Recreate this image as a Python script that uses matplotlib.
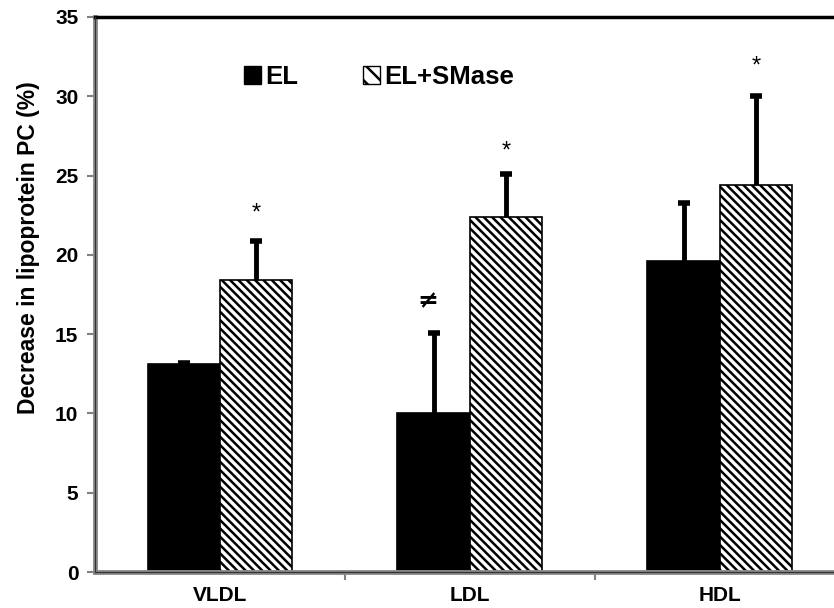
import numpy as np
import matplotlib.pyplot as plt
from matplotlib.patches import Patch

plt.rcParams['font.family'] = ['Liberation Sans', 'DejaVu Sans']
plt.rcParams['hatch.linewidth'] = 1.8

categories = ['VLDL', 'LDL', 'HDL']
el_values = [13.1, 10.0, 19.6]
el_errors = [0.1, 5.1, 3.7]
smase_values = [18.4, 22.4, 24.4]
smase_errors = [2.5, 2.7, 5.6]
smase_marks = ['*', '*', '*']
smase_mark_y = [22.6, 26.5, 31.9]
el_marks = ['', '\u2260', '']
el_mark_y = [0, 17.1, 0]
y_ticks = [0, 5, 10, 15, 20, 25, 30, 35]

x = np.arange(len(categories))
width = 0.29
hatch = '\\\\\\\\'

fig = plt.figure(figsize=(8.34, 6.08), dpi=100)
ax = fig.add_axes([95 / 834, 36 / 608, 750 / 834, 555 / 608])

ax.bar(x - width / 2, el_values, width, color='black', edgecolor='black', linewidth=1.2)
ax.bar(x + width / 2, smase_values, width, color='white', edgecolor='black',
       hatch=hatch, linewidth=1.2)


def upper_error(xs, vals, errs):
    tops = np.add(vals, errs)
    ax.vlines(xs, vals, tops, color='black', linewidth=3.5, zorder=4)
    ax.plot(xs, tops, linestyle='none', marker='_', markersize=9, markeredgewidth=4,
            color='black', zorder=4)


upper_error(x - width / 2, el_values, el_errors)
upper_error(x + width / 2, smase_values, smase_errors)

for xi, m, y in zip(x, smase_marks, smase_mark_y):
    ax.text(xi + width / 2, y, m, ha='center', va='center', fontsize=17)
for xi, m, y in zip(x, el_marks, el_mark_y):
    if m:
        ax.text(xi - width / 2 - 0.025, y, m, ha='center', va='center', fontsize=18,
                fontweight='bold', family=['DejaVu Sans'])

ax.set_xlim(-0.5, 2.5)
ax.set_ylim(0, 35)
ax.set_yticks(y_ticks)
ax.set_yticklabels([str(t) for t in y_ticks], fontsize=15, fontweight='bold')
ax.set_xticks(x)
ax.set_xticklabels(categories, fontsize=15, fontweight='bold')
ax.set_xticks([0.5, 1.5], minor=True)
ax.tick_params(axis='x', which='major', length=0, pad=10)
ax.tick_params(axis='x', which='minor', length=6, color='#808080', width=1.5, direction='out')
ax.tick_params(axis='y', length=6, color='#808080', width=1.5, pad=6)

ax.set_ylabel('Decrease in lipoprotein PC (%)', fontsize=16.5, fontweight='bold')
ax.yaxis.set_label_coords(-0.073, 0.584)

ax.spines['left'].set_color('#8a8a8a')
ax.spines['left'].set_linewidth(3.5)
ax.spines['bottom'].set_color('#8a8a8a')
ax.spines['bottom'].set_linewidth(3.5)
ax.spines['top'].set_color('black')
ax.spines['top'].set_linewidth(2.5)
ax.spines['right'].set_color('black')
ax.spines['right'].set_linewidth(2.5)
ax.axvline(-0.5, color='#333333', lw=0.9, zorder=5, clip_on=False)
ax.axhline(0, color='#333333', lw=0.9, zorder=5, clip_on=False)

handles = [Patch(facecolor='black', edgecolor='black', label='EL'),
           Patch(facecolor='white', edgecolor='black', hatch='\\\\', label='EL+SMase')]
leg = ax.legend(handles=handles, loc='upper left', bbox_to_anchor=(0.168, 0.955), ncol=2,
                frameon=False, handlelength=0.66, handleheight=0.66,
                handletextpad=0.15, columnspacing=2.55,
                prop={'weight': 'bold', 'size': 18.5})

fig.savefig('out.png', dpi=100)
